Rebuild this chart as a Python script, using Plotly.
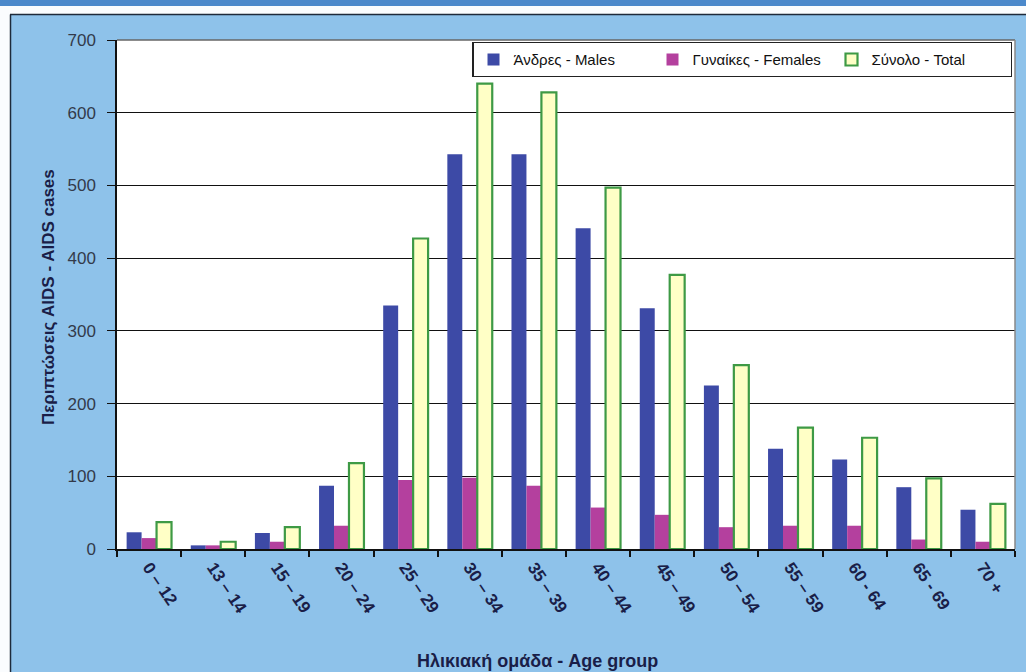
import plotly.graph_objects as go

age_groups = ["0 – 12", "13 – 14", "15 – 19", "20 – 24", "25 – 29", "30 – 34", "35 – 39",
              "40 – 44", "45 – 49", "50 – 54", "55 – 59", "60 - 64", "65 - 69", "70 +"]
males = [23, 5, 22, 87, 335, 543, 543, 441, 331, 225, 138, 123, 85, 54]
females = [15, 5, 10, 32, 95, 98, 87, 57, 47, 30, 32, 32, 13, 10]
total = [37, 10, 30, 118, 427, 640, 628, 497, 377, 253, 167, 153, 97, 62]

W, H = 1026, 672
L, R, T, B = 117, 1015, 40, 549

def px(x):
    return (x - L) / (R - L)

def py(y):
    return (B - y) / (B - T)

fig = go.Figure()
fig.add_trace(go.Bar(x=age_groups, y=males, name="Άνδρες - Males",
                     marker=dict(color="#3D4AA6", line=dict(width=0))))
fig.add_trace(go.Bar(x=age_groups, y=females, name="Γυναίκες - Females",
                     marker=dict(color="#B4409E", line=dict(width=0))))
fig.add_trace(go.Bar(x=age_groups, y=total, name="Σύνολο - Total",
                     marker=dict(color="#FFFFC6", line=dict(color="#3E9A45", width=2.2))))

font_family = "Liberation Sans, Arial, sans-serif"

fig.update_layout(
    width=W, height=H,
    margin=dict(l=L, r=W - R, t=T, b=H - B, autoexpand=False),
    paper_bgcolor="#8EC2EA",
    plot_bgcolor="white",
    barmode="group",
    bargap=0.3,
    bargroupgap=0,
    font=dict(family=font_family, color="#1E2244"),
    showlegend=True,
    legend=dict(orientation="h", x=0.997, xanchor="right", y=0.996, yanchor="top",
                bgcolor="white", bordercolor="#222222", borderwidth=1.2,
                font=dict(size=15, color="#111111"),
                traceorder="normal", entrywidth=134, itemwidth=30),
    xaxis=dict(type="category", tickangle=56, tickson="boundaries",
               ticks="outside", ticklen=6, tickwidth=2, tickcolor="#111111",
               showline=True, linecolor="#111111", linewidth=1.5,
               tickfont=dict(size=17, color="#1A1E48", weight="bold"),
               showgrid=False),
    yaxis=dict(range=[0, 700], dtick=100, ticks="outside", ticklen=8, tickwidth=1.2,
               tickcolor="#111111", showline=True, linecolor="#111111", linewidth=1.5,
               showgrid=True, gridcolor="#111111", gridwidth=1.3, ticklabelstandoff=8,
               tickfont=dict(size=17, color="#333A4A"), zeroline=False),
    shapes=[
        dict(type="rect", xref="paper", yref="paper", x0=px(-5), x1=px(W + 5), y0=py(6), y1=py(-5),
             fillcolor="#4B89CB", line=dict(width=0), layer="below"),
        dict(type="rect", xref="paper", yref="paper", x0=px(-5), x1=px(W + 5), y0=py(14), y1=py(6),
             fillcolor="#FAFCFE", line=dict(width=0), layer="below"),
        dict(type="rect", xref="paper", yref="paper", x0=px(-5), x1=px(10), y0=py(H + 5), y1=py(14),
             fillcolor="#FAFCFE", line=dict(width=0), layer="below"),
        dict(type="line", xref="paper", yref="paper", x0=px(10), x1=px(W + 5), y0=py(14.5), y1=py(14.5),
             line=dict(color="#1E2A3A", width=1.5)),
        dict(type="line", xref="paper", yref="paper", x0=px(10.5), x1=px(10.5), y0=py(14.5), y1=py(H + 5),
             line=dict(color="#1E2A3A", width=1.5)),
        dict(type="line", xref="paper", yref="paper", x0=0, x1=1, y0=1, y1=1,
             line=dict(color="#666666", width=1.5)),
        dict(type="line", xref="paper", yref="paper", x0=1, x1=1, y0=0, y1=1,
             line=dict(color="#888888", width=1.5)),
    ],
    annotations=[
        dict(text="<b>Ηλικιακή ομάδα - Age group</b>", xref="paper", yref="paper",
             x=px(537), y=py(661), xanchor="center", yanchor="middle", showarrow=False,
             font=dict(size=18, color="#1A1E48")),
        dict(text="<b>Περιπτώσεις AIDS - AIDS cases</b>", xref="paper", yref="paper",
             x=px(48), y=py(297), xanchor="center", yanchor="middle", showarrow=False,
             textangle=-90, font=dict(size=17, color="#1A1E48")),
    ],
)

fig.write_html("out.html", config={"displayModeBar": False},
               post_script="document.body.style.margin='0';document.body.style.overflow='hidden';")
